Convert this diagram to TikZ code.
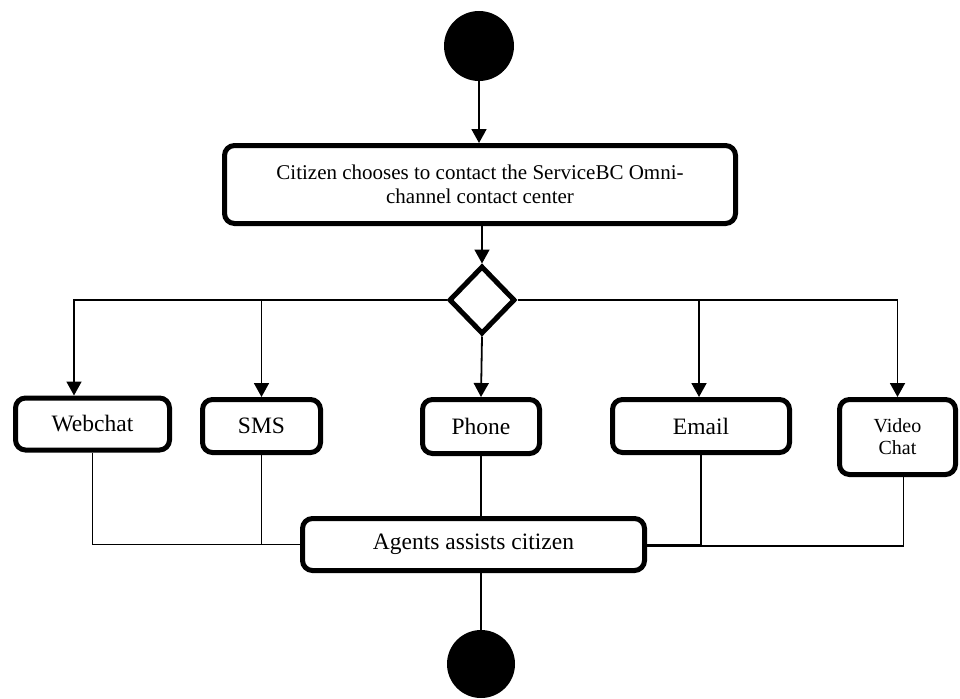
\documentclass[tikz,border=0pt]{standalone}
\usepackage{fontspec}
\setmainfont{Liberation Serif}
\usetikzlibrary{shapes.geometric,arrows.meta}

\tikzset{
  action/.style={draw, line width=5pt, rounded corners=10pt, inner sep=0pt,
    align=center, font=\fontsize{23.5}{28}\selectfont},
  terminal/.style={circle, fill=black, inner sep=0pt},
  choice/.style={diamond, draw, line width=5pt, inner sep=0pt},
  flow/.style={line width=1.8pt, -{Triangle[length=14pt,width=15pt]}},
  merge/.style={line width=1.8pt}
}

\begin{document}
\begin{tikzpicture}[x=1pt,y=-1pt]
  \useasboundingbox (0,0) rectangle (960,698);

  % start and end markers
  \node[terminal, minimum size=70pt] (start) at (479,46) {};
  \node[terminal, minimum size=68pt] (finish) at (481,664) {};

  % first action and decision
  \node[action, minimum width=511pt, minimum height=78pt,
        font=\fontsize{21}{24}\selectfont] (choose) at (480,184.5)
        {Citizen chooses to contact the ServiceBC Omni-\\channel contact center};
  \node[choice, minimum width=66pt, minimum height=68pt] (dec) at (482,300) {};

  % contact channels
  \node[action, minimum width=154pt, minimum height=52pt] (web)   at (92.5,424)  {Webchat};
  \node[action, minimum width=118pt, minimum height=53pt] (sms)   at (261.5,426) {SMS};
  \node[action, minimum width=117pt, minimum height=54pt] (phone) at (481,426.5) {Phone};
  \node[action, minimum width=177pt, minimum height=53pt] (email) at (701,426)   {Email};
  \node[action, minimum width=116pt, minimum height=75pt,
        font=\fontsize{20}{22}\selectfont] (video) at (897.5,437) {Video\\Chat};

  % agent step
  \node[action, minimum width=342pt, minimum height=52pt] (agents) at (473.5,544.5)
        {Agents assists citizen};

  % flow from start to the decision
  \draw[flow] (start.south) -- (start.south |- choose.north);
  \draw[flow] (choose.south -| dec.north) -- (dec.north);

  % branches to the channels
  \draw[flow] (dec.west) -| ([xshift=-18.5pt]web.north);
  \draw[flow] (sms.north |- dec.west) -- (sms.north);
  \draw[flow] (dec.south) -- (phone.north);
  \draw[flow] (dec.east) -| (video.north);
  \draw[flow] ([xshift=-2pt]email.north |- dec.east) -- ([xshift=-2pt]email.north);

  % channels join at the agent step
  \draw[merge] (web.south) |- (agents.west);
  \draw[merge] (sms.south) -- (sms.south |- agents.west);
  \draw[merge] (phone.south) -- (phone.south |- agents.north);
  \draw[merge] (email.south) |- (agents.east);
  \draw[merge] ([xshift=6pt]video.south) |- ([yshift=-1.5pt]agents.east);
  \draw[merge] (agents.south -| finish.north) -- (finish.north);
\end{tikzpicture}
\end{document}
